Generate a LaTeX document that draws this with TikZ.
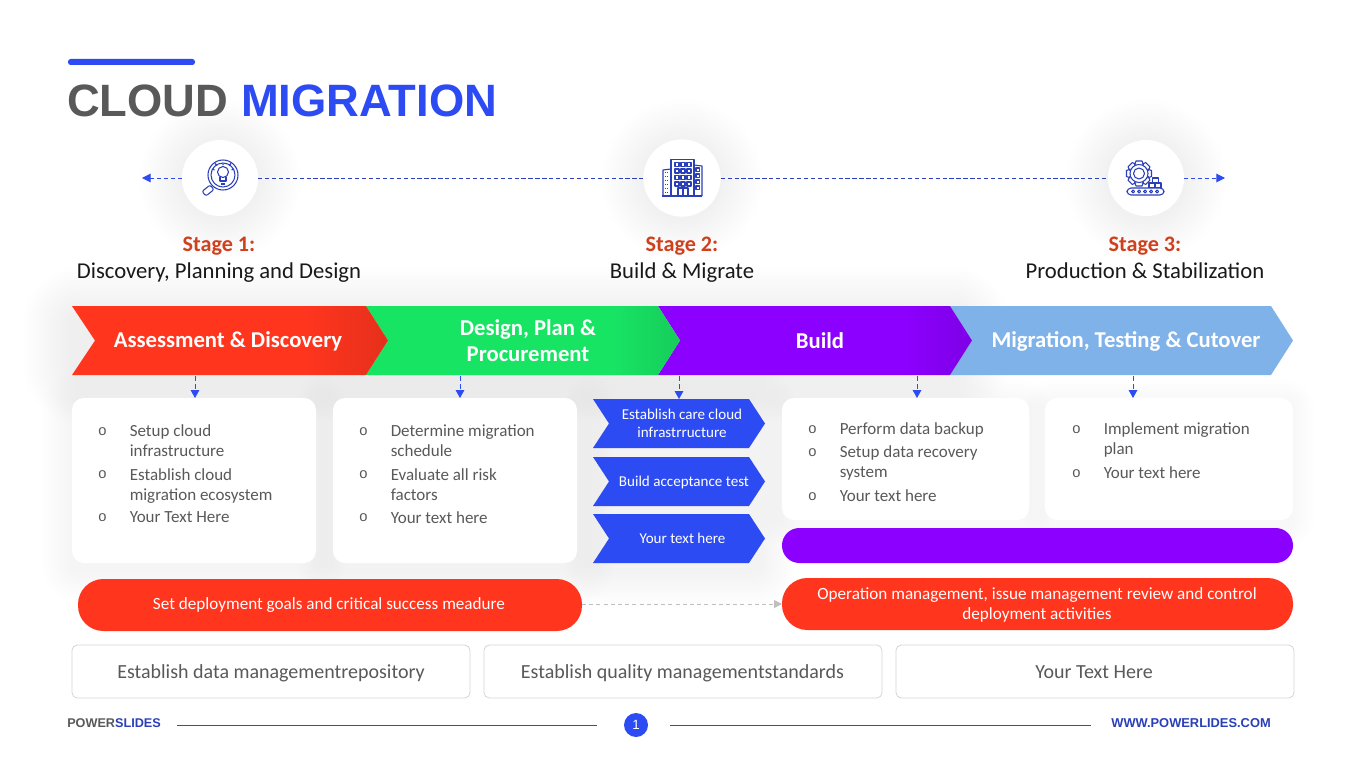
\documentclass[tikz,border=0pt]{standalone}
\usepackage{fontspec}
\setmainfont{Carlito}
\newfontfamily\arialf{Liberation Sans}
\usetikzlibrary{arrows.meta}
\definecolor{cblue}{HTML}{2C4BF2}
\definecolor{cicon}{HTML}{2B3FB8}
\definecolor{cred}{HTML}{FF351E}
\definecolor{cgreen}{HTML}{18E464}
\definecolor{cpurple}{HTML}{8C00FF}
\definecolor{clight}{HTML}{7FB2E9}
\definecolor{cstage}{HTML}{D0401C}
\definecolor{ctext}{HTML}{595959}
\definecolor{cfoot}{HTML}{2F5597}
\pgfdeclarehorizontalshading{shred}{100bp}{color(0bp)=(cred);color(62bp)=(cred);color(75bp)=(cred!90!black);color(100bp)=(cred!90!black)}
\pgfdeclarehorizontalshading{shgreen}{100bp}{color(0bp)=(cgreen);color(64bp)=(cgreen);color(75bp)=(cgreen!90!black);color(100bp)=(cgreen!90!black)}
\pgfdeclarehorizontalshading{shpurple}{100bp}{color(0bp)=(cpurple);color(64bp)=(cpurple);color(75bp)=(cpurple!90!black);color(100bp)=(cpurple!90!black)}
\tikzset{
  x=0.75pt,y=-0.75pt,
  dasharrow/.style={cblue,line width=0.75pt,dash pattern=on 3.6pt off 2.6pt,-{Triangle[length=6pt,width=6.5pt]}},
  stageline/.style={cicon,line width=0.75pt,dash pattern=on 3.2pt off 2pt},
  cardbox/.style={fill=white,rounded corners=9pt,inner sep=0pt,outer sep=0pt},
  outlinebox/.style={draw=black!16,fill=white,line width=0.6pt,rounded corners=4pt,inner sep=0pt,outer sep=0pt},
  outlinetxt/.style={inner sep=0pt,anchor=base,text=ctext,font=\fontsize{15}{18}\selectfont},
  pill/.style={rounded corners=19pt,inner sep=0pt,outer sep=0pt,text=white,align=center,font=\fontsize{12.85}{15.2}\selectfont},
  thinpill/.style={rounded corners=13pt,inner sep=0pt,outer sep=0pt},
  bigtxt/.style={text=white,align=center,font=\bfseries\fontsize{17}{19.6}\selectfont,inner sep=0pt},
  smalltxt/.style={text=white,align=center,font=\fontsize{11.3}{13.5}\selectfont,inner sep=0pt},
  bodytxt/.style={text=ctext,anchor=north west,align=left,inner sep=0pt,font=\fontsize{12.75}{15}\selectfont},
  bull/.style={text=ctext,inner sep=0pt,font=\arialf\fontsize{11}{15}\selectfont},
  stagetitle/.style={text=cstage,anchor=base,font=\bfseries\fontsize{16.6}{20}\selectfont,inner sep=0pt},
  stagetxt/.style={text=black!90,anchor=base,font=\fontsize{17}{20}\selectfont,inner sep=0pt},
  iconline/.style={cicon,line width=0.8pt,line join=round},
}
% soft shadow: nested translucent rounded rectangles
\newcommand{\softshadow}[6]{%
  \foreach \sk in {1,...,#6}{%
    \pgfmathsetmacro{\rr}{6+\sk*2.2}
    \fill[black,opacity=0.0032,rounded corners=\rr pt]
      ({#1-\sk*3},{#2-\sk*3+3}) rectangle ({#3+\sk*3},{#4+\sk*3+#5});
  }}
\newcommand{\softdisc}[3]{%
  \foreach \sk in {1,...,14}{%
    \fill[black,opacity=0.002] (#1,{#2+2}) circle[radius={#3+\sk*3}];
  }}
% box node given by its corners in pixels
\newcommand{\boxnode}[6]{%
  \node[#2,minimum width={(#5-#3)*0.75pt},minimum height={(#6-#4)*0.75pt}] (#1) at ({(#3+#5)/2},{(#4+#6)/2}) {};}
\newcommand{\chevpath}[6]{% x1 xshoulder xtip y1 y2 notch
  (#1,#4) -- (#2,#4) -- (#3,{(#4+#5)/2}) -- (#2,#5) -- (#1,#5) -- (#6,{(#4+#5)/2}) -- cycle}
\newcommand{\bulitem}[5]{% name x y bullety text
  \node[bull] (#1b) at ({#2-27},#4) {o};
  \node[bodytxt] (#1) at (#2,#3) {#5};}
\begin{document}
\begin{tikzpicture}
\useasboundingbox (0,0) rectangle (1365,767);
\fill[white] (0,0) rectangle (1365,767);

% ---------- soft shadows
\softdisc{220}{178}{38}
\softdisc{682}{178}{38}
\softdisc{1146}{178}{38}
\softshadow{72}{312}{960}{370}{4}{16}
\softshadow{72}{398}{316}{563}{8}{10}
\softshadow{333}{398}{577}{563}{8}{12}
\softshadow{600}{399}{760}{563}{8}{12}
\softshadow{782}{398}{1029}{520}{6}{7}
\softshadow{1045}{398}{1293}{520}{6}{7}

% ---------- title
\fill[cblue,rounded corners=2pt] (68,59) rectangle (195,65);
\node[anchor=base west,inner sep=0pt,font=\arialf\bfseries\fontsize{34}{40}\selectfont] (title) at (67,117) {\textcolor{ctext}{CLOUD} \textcolor{cblue}{MIGRATION}};

% ---------- stage circles
\node[circle,fill=white,minimum size=57pt,inner sep=0pt,outer sep=0pt] (c1) at (220,178) {};
\node[circle,fill=white,minimum size=58pt,inner sep=0pt,outer sep=0pt] (c2) at (682,178) {};
\node[circle,fill=white,minimum size=57pt,inner sep=0pt,outer sep=0pt] (c3) at (1146,178) {};
\coordinate (leftend) at (142,178);
\coordinate (rightend) at (1225,178);
\draw[stageline,-{Triangle[length=6.5pt,width=6.5pt]},cblue] (c1) -- (leftend);
\draw[stageline] (c1) -- (c2);
\draw[stageline] (c2) -- (c3);
\draw[stageline,-{Triangle[length=6.5pt,width=6.5pt]},cblue] (c3) -- (rightend);

% icon: magnifier with bulb
\begin{scope}[iconline]
  \draw (223,175) circle[radius=15];
  \draw (223,175) circle[radius=12];
  \draw (223,172) circle[radius=5.5];
  \draw (220,177) -- (220,181) -- (226,181) -- (226,177);
  \draw (221,184) -- (225,184);
  \draw (212,169) -- (214.5,170) (234,169) -- (231.5,170) (223,163.5) -- (223,165) (215,163.5) -- (217,165.5) (231,163.5) -- (229,165.5);
  \draw[rounded corners=1.5pt] (210,185) -- (214,189.5) -- (206,196) -- (202,191.5) -- cycle;
\end{scope}
% icon: buildings
\begin{scope}[iconline]
  \draw (671,196) -- (671,159.5) -- (694,159.5) -- (694,196);
  \draw (663,196) -- (663,170) -- (671,169);
  \draw (694,165) -- (702,166) -- (702,196);
  \draw (662,196) -- (702,196);
  \foreach \cy in {162.5,169,175.5,182}{
      \foreach \cx in {675,681,687}{\draw (\cx,\cy) rectangle ++(4,4);}}
  \draw (678,196) -- (678,188) -- (688,188) -- (688,196) (683,188) -- (683,196);
  \foreach \cy in {172,176,180,184,188,192}{
    \draw[line width=0.5pt,dash pattern=on 1pt off .6pt] (665,\cy) -- (669,\cy);}
  \foreach \cy in {168,174,180,186}{\draw (696,\cy) rectangle ++(3.2,3.2);}
\end{scope}
% icon: gear and conveyor
\begin{scope}[iconline]
  \foreach \ga in {0,45,...,315}{
    \draw[shift={(1139,173.5)},rotate=\ga] (-4.5,-8.5) -- (-3,-12.5) -- (3,-12.5) -- (4.5,-8.5);}
  \draw[fill=white] (1139,173.5) circle[radius=9];
  \draw (1139,173.5) circle[radius=5.5];
  \draw[fill=white] (1149,183) rectangle (1155,188);
  \draw[fill=white] (1155,183) rectangle (1161,188);
  \draw[fill=white] (1152.5,178) rectangle (1158.5,183);
  \draw[rounded corners=3pt,fill=white] (1127,188) rectangle (1164,195);
  \foreach \wx in {1133,1139,1145,1151,1157}{\draw (\wx,191.5) circle[radius=1.5];}
\end{scope}

% ---------- stage labels
\node[stagetitle] (s1t) at (219,251) {Stage 1:};
\node[stagetxt] (s1) at (219,278.5) {Discovery, Planning and Design};
\node[stagetitle] (s2t) at (682,251) {Stage 2:};
\node[stagetxt] (s2) at (682,278.5) {Build \& Migrate};
\node[stagetitle] (s3t) at (1145,251) {Stage 3:};
\node[stagetxt] (s3) at (1145,278.5) {Production \& Stabilization};

% ---------- main chevrons (later ones overlap earlier ones)
\fill[clight] \chevpath{950}{1271}{1293}{306}{375}{972};
\shade[shading=shpurple] \chevpath{658}{950}{972}{306}{375}{680};
\shade[shading=shgreen] \chevpath{366}{658}{680}{306}{375}{388};
\shade[shading=shred] \chevpath{72}{366}{388}{306}{375}{95};
\node[bigtxt] (ch1) at (228,341.5) {Assessment \& Discovery};
\node[bigtxt] (ch2) at (528,340.5) {Design, Plan \&\\Procurement};
\node[bigtxt] (ch3) at (820,340.5) {Build};
\node[bigtxt] (ch4) at (1126,341.5) {Migration, Testing \& Cutover};

% ---------- cards
\boxnode{card1}{cardbox}{72}{398}{316}{563}
\boxnode{card2}{cardbox}{333}{398}{577}{563}
\boxnode{card4}{cardbox}{782}{398}{1029}{520}
\boxnode{card5}{cardbox}{1045}{398}{1293}{520}

\bulitem{a1}{129.5}{424}{432}{Setup cloud\\infrastructure}
\bulitem{a2}{129.5}{468}{475}{Establish cloud\\migration ecosystem}
\bulitem{a3}{129.5}{511.5}{518}{Your Text Here}
\bulitem{b1}{390.5}{424}{432}{Determine migration\\schedule}
\bulitem{b2}{390.5}{468}{475}{Evaluate all risk\\factors}
\bulitem{b3}{390.5}{511.5}{518}{Your text here}
\bulitem{d1}{839.5}{422}{430}{Perform data backup}
\bulitem{d2}{839.5}{445}{453}{Setup data recovery\\system}
\bulitem{d3}{839.5}{489}{497}{Your text here}
\bulitem{e1}{1103.5}{422}{430}{Implement migration\\plan}
\bulitem{e2}{1103.5}{466}{474}{Your text here}

% ---------- blue chevrons
\fill[cblue] \chevpath{593}{749}{765}{399}{448}{609};
\fill[cblue] \chevpath{593}{749}{765}{457}{506}{609};
\fill[cblue] \chevpath{593}{749}{765}{514}{563}{609};
\boxnode{bc1}{inner sep=0pt,outer sep=0pt}{593}{399}{765}{448}
\boxnode{bc2}{inner sep=0pt,outer sep=0pt}{593}{457}{765}{506}
\boxnode{bc3}{inner sep=0pt,outer sep=0pt}{593}{514}{765}{563}
\node[smalltxt] (bt1) at (682,423.5) {Establish care cloud\\infrastrructure};
\node[smalltxt] (bt2) at (684,482) {Build acceptance test};
\node[smalltxt] (bt3) at (682.5,538.5) {Your text here};

% ---------- dashed connectors chevrons to boxes
\coordinate (dn1) at (195,376);
\coordinate (dn2) at (460,376);
\coordinate (dn3) at (679,376);
\coordinate (dn4) at (917,376);
\coordinate (dn5) at (1133,376);
\draw[dasharrow] (dn1) -- (dn1 |- card1.north);
\draw[dasharrow] (dn2) -- (dn2 |- card2.north);
\draw[dasharrow] (dn3) -- (dn3 |- bc1.north);
\draw[dasharrow] (dn4) -- (dn4 |- card4.north);
\draw[dasharrow] (dn5) -- (dn5 |- card5.north);

% ---------- pills
\boxnode{ppurple}{thinpill,fill=cpurple}{782}{528}{1293}{563}
\node[pill,fill=cred,minimum width={504*0.75pt},minimum height={52*0.75pt}] (pl) at (330,605) {};
\node[pill,fill=cred,minimum width={511*0.75pt},minimum height={52*0.75pt}] (pr) at (1037.5,604) {};
\node[pill] (plt) at (329,605) {Set deployment goals and critical success meadure};
\node[pill] (prt) at (1037,605) {Operation management, issue management review and control\\deployment activities};
\draw[black!25,line width=0.75pt,dash pattern=on 3pt off 2.4pt,-{Triangle[length=6pt,width=6pt]}] (pl.east |- pr.center) -- (pr.west);

% ---------- bottom boxes
\node[outlinebox,minimum width={398*0.75pt},minimum height={53*0.75pt}] (o1) at (271,671.5) {};
\node[outlinebox,minimum width={398*0.75pt},minimum height={53*0.75pt}] (o2) at (683,671.5) {};
\node[outlinebox,minimum width={398*0.75pt},minimum height={53*0.75pt}] (o3) at (1095,671.5) {};
\node[outlinetxt] (o1t) at (271,678) {Establish data managementrepository};
\node[outlinetxt] (o2t) at (682.5,678) {Establish quality managementstandards};
\node[outlinetxt] (o3t) at (1094,678) {Your Text Here};

% ---------- footer
\node[anchor=base west,inner sep=0pt,font=\arialf\bfseries\fontsize{9.5}{11}\selectfont] (fl) at (67,727.5) {\textcolor{ctext}{POWER}\textcolor{cicon}{SLIDES}};
\node[circle,fill=cblue,minimum size=18pt,inner sep=0pt,outer sep=0pt,text=white,font=\arialf\fontsize{10}{12}\selectfont] (pg) at (636,725) {1};
\coordinate (fa) at (177,725.5);
\coordinate (fb) at (597,725.5);
\coordinate (fc) at (670,725.5);
\coordinate (fd) at (1091,725.5);
\draw[cfoot,line width=0.75pt] (fa) -- (fb);
\draw[cfoot,line width=0.75pt] (fc) -- (fd);
\node[anchor=base east,inner sep=0pt,text=cicon,font=\arialf\bfseries\fontsize{9.65}{11}\selectfont] (fr) at (1271,727.5) {WWW.POWERLIDES.COM};
\end{tikzpicture}
\end{document}
